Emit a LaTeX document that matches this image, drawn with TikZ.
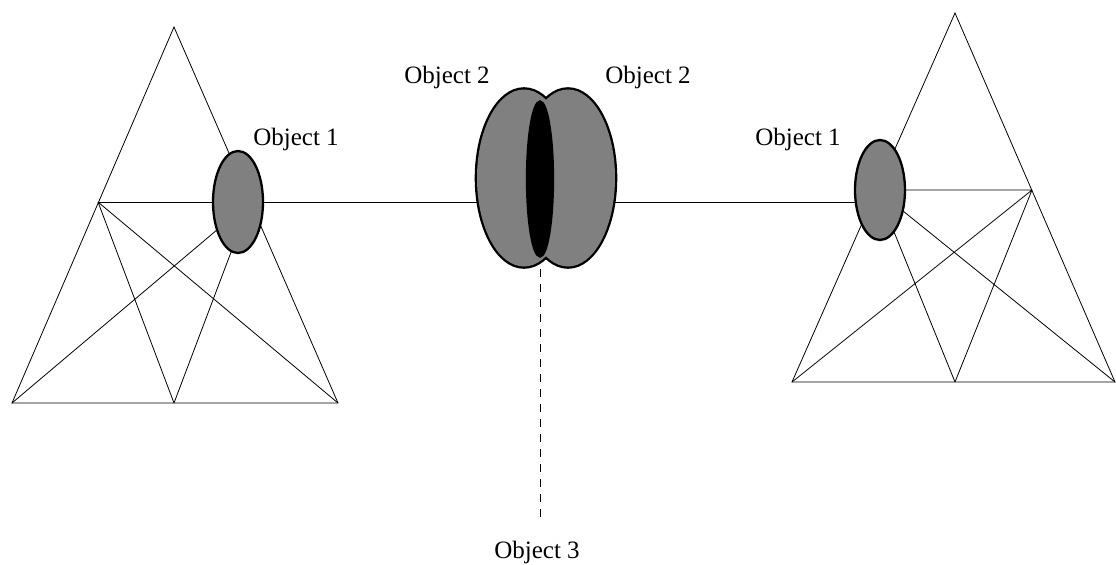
\documentclass[tikz,border=0pt]{standalone}
\usepackage{fontspec}
\setmainfont{Liberation Serif}
\usetikzlibrary{shapes.geometric,backgrounds}
\definecolor{objgray}{RGB}{128,128,128}

\begin{document}
\begin{tikzpicture}[x=0.5pt, y=-0.5pt, line width=1.15pt,
    every node/.style={font=\fontsize{12.5}{15}\selectfont},
    obj/.style={draw,ellipse,fill=objgray,inner sep=0pt},
    pair/.style={draw,ellipse,line width=2.3pt,inner sep=0pt,minimum width=47pt,minimum height=88.5pt},
    lbl/.style={anchor=base,inner sep=0pt}]
  \useasboundingbox (0,0) rectangle (1116,564);
  % left triangle
  \coordinate (a1) at (174,27);
  \coordinate (bl1) at (12,403);
  \coordinate (bm1) at (174,403);
  \coordinate (br1) at (338,403);
  \coordinate (l1) at (98,202);
  \coordinate (r1) at (250,202);
  % right triangle
  \coordinate (a2) at (955,13);
  \coordinate (bl2) at (792,382);
  \coordinate (bm2) at (955,382);
  \coordinate (br2) at (1115,382);
  \coordinate (l2) at (877,190);
  \coordinate (r2) at (1032,190);
  % objects
  \node[obj,minimum width=25pt,minimum height=51pt] (o1l) at (238,202) {};
  \node[obj,minimum width=25pt,minimum height=50pt] (o1r) at (880,190) {};
  \node[pair] (o2l) at (524,178) {};
  \node[pair] (o2r) at (568,178) {};
  % fill over the inner outlines of the pair
  \fill[objgray] (o2l.center) ellipse (23.5pt and 44.25pt);
  \fill[objgray] (o2r.center) ellipse (23.5pt and 44.25pt);
  \node[obj,fill=black,minimum width=13pt,minimum height=77.5pt] (o3) at (540,179) {};
  \coordinate (d3) at (540,523);
  % labels
  \node[lbl] (t1l) at (296,145) {Object 1};
  \node[lbl] (t1r) at (798,145) {Object 1};
  \node[lbl] (t2l) at (447,83) {Object 2};
  \node[lbl] (t2r) at (648,83) {Object 2};
  \node[lbl] (t3) at (537,558) {Object 3};
  \begin{pgfonlayer}{background}
    \draw (bl1) -- (a1) -- (br1) -- cycle;
    \draw (l1) -- (bm1) (l1) -- (br1) (bl1) -- (r1) (bm1) -- (r1);
    \draw (bl2) -- (a2) -- (br2) -- cycle;
    \draw (l2) -- (r2) (l2) -- (bm2) (l2) -- (br2) (bl2) -- (r2) (bm2) -- (r2);
    \draw (l1) -- (o2l.center |- l1);
    \draw (o2r.center |- l1) -- (o1r.center |- l1);
    \draw[dash pattern=on 4pt off 3.5pt] (o3.center) -- (d3);
  \end{pgfonlayer}
\end{tikzpicture}
\end{document}
